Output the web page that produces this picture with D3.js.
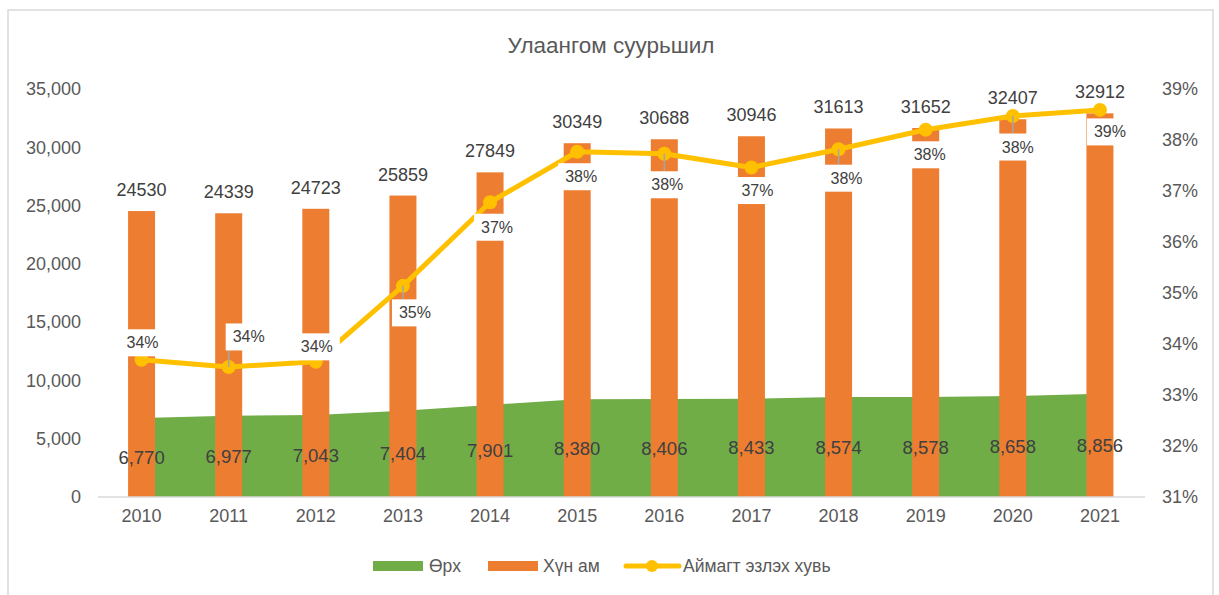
<!DOCTYPE html>
<html>
<head>
<meta charset="utf-8">
<script src="https://cdn.jsdelivr.net/npm/d3@7"></script>
<style>
  body { margin: 0; background: #fff; }
  svg { font-family: "Liberation Sans", Arial, sans-serif; }
</style>
</head>
<body>
<svg id="chart" width="1219" height="595"></svg>
<script>
// Chart data
const years = ['2010','2011','2012','2013','2014','2015','2016','2017','2018','2019','2020','2021'];
const households = [6770, 6977, 7043, 7404, 7901, 8380, 8406, 8433, 8574, 8578, 8658, 8856];
const population = [24530, 24339, 24723, 25859, 27849, 30349, 30688, 30946, 31613, 31652, 32407, 32912];
const share = [0.3369, 0.3355, 0.3365, 0.3514, 0.3678, 0.3777, 0.3773, 0.3746, 0.3782, 0.3820, 0.3847, 0.3859];
const leftTicks = [0, 5000, 10000, 15000, 20000, 25000, 30000, 35000];
const rightTicks = [0.31, 0.32, 0.33, 0.34, 0.35, 0.36, 0.37, 0.38, 0.39];

// label layout (text centre relative to the point) and leader lines
const labelOffsets = [[1,-17],[20,-30],[1,-15],[12,27],[7,25],[4,25],[3,31],[6,23],[8,29],[4,25],[5,31],[10,22]];
const leaders = [false,true,false,true,false,false,true,false,true,false,true,false];

const svg = d3.select('#chart');
const C = { green: '#70AD47', orange: '#ED7D31', yellow: '#FFC000', axis: '#595959', label: '#404040', grid: '#d9d9d9' };

// outer border
svg.append('rect').attr('x', 8).attr('y', 10).attr('width', 1205).attr('height', 600)
  .attr('fill', '#fff').attr('stroke', C.grid).attr('stroke-width', 1.5);

const x = d3.scaleBand().domain(years).range([98, 1143.5]);
const xc = d => x(d) + x.bandwidth() / 2;
const y = d3.scaleLinear().domain([0, 35000]).range([497, 89]);
const y2 = d3.scaleLinear().domain([0.31, 0.39]).range([497, 89]);

// title
svg.append('text').attr('x', 611).attr('y', 45).attr('text-anchor', 'middle')
  .attr('dominant-baseline', 'central').attr('fill', C.axis).attr('font-size', 22.5)
  .text('Улаангом суурьшил');

// green area
const area = d3.area().x((d, i) => xc(years[i])).y0(y(0)).y1(d => y(d));
svg.append('path').datum(households).attr('d', area).attr('fill', C.green);

// bars
const barW = 27;
svg.append('g').selectAll('rect').data(population).join('rect')
  .attr('x', (d, i) => xc(years[i]) - barW / 2)
  .attr('y', d => y(d))
  .attr('width', barW)
  .attr('height', d => y(0) - y(d))
  .attr('fill', C.orange);

// x axis line
svg.append('line').attr('x1', 98).attr('x2', 1145).attr('y1', y(0)).attr('y2', y(0))
  .attr('stroke', C.grid).attr('stroke-width', 1.5);

// left axis
const leftAxis = svg.append('g').attr('transform', 'translate(81,0)')
  .call(d3.axisLeft(y).tickValues(leftTicks).tickSize(0).tickPadding(0).tickFormat(d3.format(',')));
leftAxis.select('.domain').remove();
leftAxis.selectAll('text').attr('font-size', 18).attr('fill', C.axis).attr('font-family', null);

// right axis
const rightAxis = svg.append('g').attr('transform', 'translate(1162,0)')
  .call(d3.axisRight(y2).tickValues(rightTicks).tickSize(0).tickPadding(0).tickFormat(d3.format('.0%')));
rightAxis.select('.domain').remove();
rightAxis.selectAll('text').attr('font-size', 18).attr('fill', C.axis).attr('font-family', null);

// bottom axis
const bottomAxis = svg.append('g').attr('transform', `translate(0,${y(0) + 12})`)
  .call(d3.axisBottom(x).tickSize(0).tickPadding(0));
bottomAxis.select('.domain').remove();
bottomAxis.selectAll('text').attr('font-size', 18).attr('fill', C.axis).attr('font-family', null);

// line series
const line = d3.line().x((d, i) => xc(years[i])).y(d => y2(d));
svg.append('path').datum(share).attr('d', line).attr('fill', 'none')
  .attr('stroke', C.yellow).attr('stroke-width', 5).attr('stroke-linejoin', 'round');
svg.append('g').selectAll('circle').data(share).join('circle')
  .attr('cx', (d, i) => xc(years[i])).attr('cy', d => y2(d)).attr('r', 7).attr('fill', C.yellow);

// bar labels
svg.append('g').selectAll('text').data(population).join('text')
  .attr('x', (d, i) => xc(years[i])).attr('y', d => y(d) - 21)
  .attr('text-anchor', 'middle').attr('dominant-baseline', 'central')
  .attr('font-size', 18).attr('fill', C.label).text(d => d);

// area labels
svg.append('g').selectAll('text').data(households).join('text')
  .attr('x', (d, i) => xc(years[i])).attr('y', d => y(d / 2))
  .attr('text-anchor', 'middle').attr('dominant-baseline', 'central')
  .attr('font-size', 18.5).attr('fill', C.label).text(d => d3.format(',')(d));

// percentage labels with white boxes
const bw = 46, bh = 27;
const pl = svg.append('g');
share.forEach((v, i) => {
  const px = xc(years[i]), py = y2(v);
  const tx = px + labelOffsets[i][0], ty = py + labelOffsets[i][1];
  if (leaders[i]) {
    // leader to nearest point of the box
    const ex = Math.max(tx - bw / 2, Math.min(px, tx + bw / 2));
    const ey = Math.max(ty - bh / 2, Math.min(py, ty + bh / 2));
    pl.append('line').attr('x1', px).attr('y1', py).attr('x2', ex).attr('y2', ey)
      .attr('stroke', '#a6a6a6').attr('stroke-width', 1.5);
  }
  pl.append('rect').attr('x', tx - bw / 2).attr('y', ty - bh / 2)
    .attr('width', bw).attr('height', bh).attr('fill', '#fff');
  pl.append('text').attr('x', tx).attr('y', ty).attr('text-anchor', 'middle')
    .attr('dominant-baseline', 'central').attr('font-size', 16).attr('fill', C.label)
    .text(d3.format('.0%')(v));
});

// legend
const lg = svg.append('g').attr('transform', 'translate(0,566)');
lg.append('rect').attr('x', 373).attr('y', -5).attr('width', 50).attr('height', 10).attr('fill', C.green);
lg.append('text').attr('x', 429).attr('y', 0).attr('dominant-baseline', 'central')
  .attr('font-size', 17.5).attr('fill', C.axis).text('Өрх');
lg.append('rect').attr('x', 488).attr('y', -5).attr('width', 50).attr('height', 10).attr('fill', C.orange);
lg.append('text').attr('x', 543).attr('y', 0).attr('dominant-baseline', 'central')
  .attr('font-size', 17.5).attr('fill', C.axis).text('Хүн ам');
lg.append('line').attr('x1', 626).attr('x2', 679).attr('y1', 0).attr('y2', 0)
  .attr('stroke', C.yellow).attr('stroke-width', 5).attr('stroke-linecap', 'round');
lg.append('circle').attr('cx', 652).attr('cy', 0).attr('r', 6).attr('fill', C.yellow);
lg.append('text').attr('x', 683).attr('y', 0).attr('dominant-baseline', 'central')
  .attr('font-size', 17.5).attr('fill', C.axis).text('Аймагт эзлэх хувь');
</script>
</body>
</html>
